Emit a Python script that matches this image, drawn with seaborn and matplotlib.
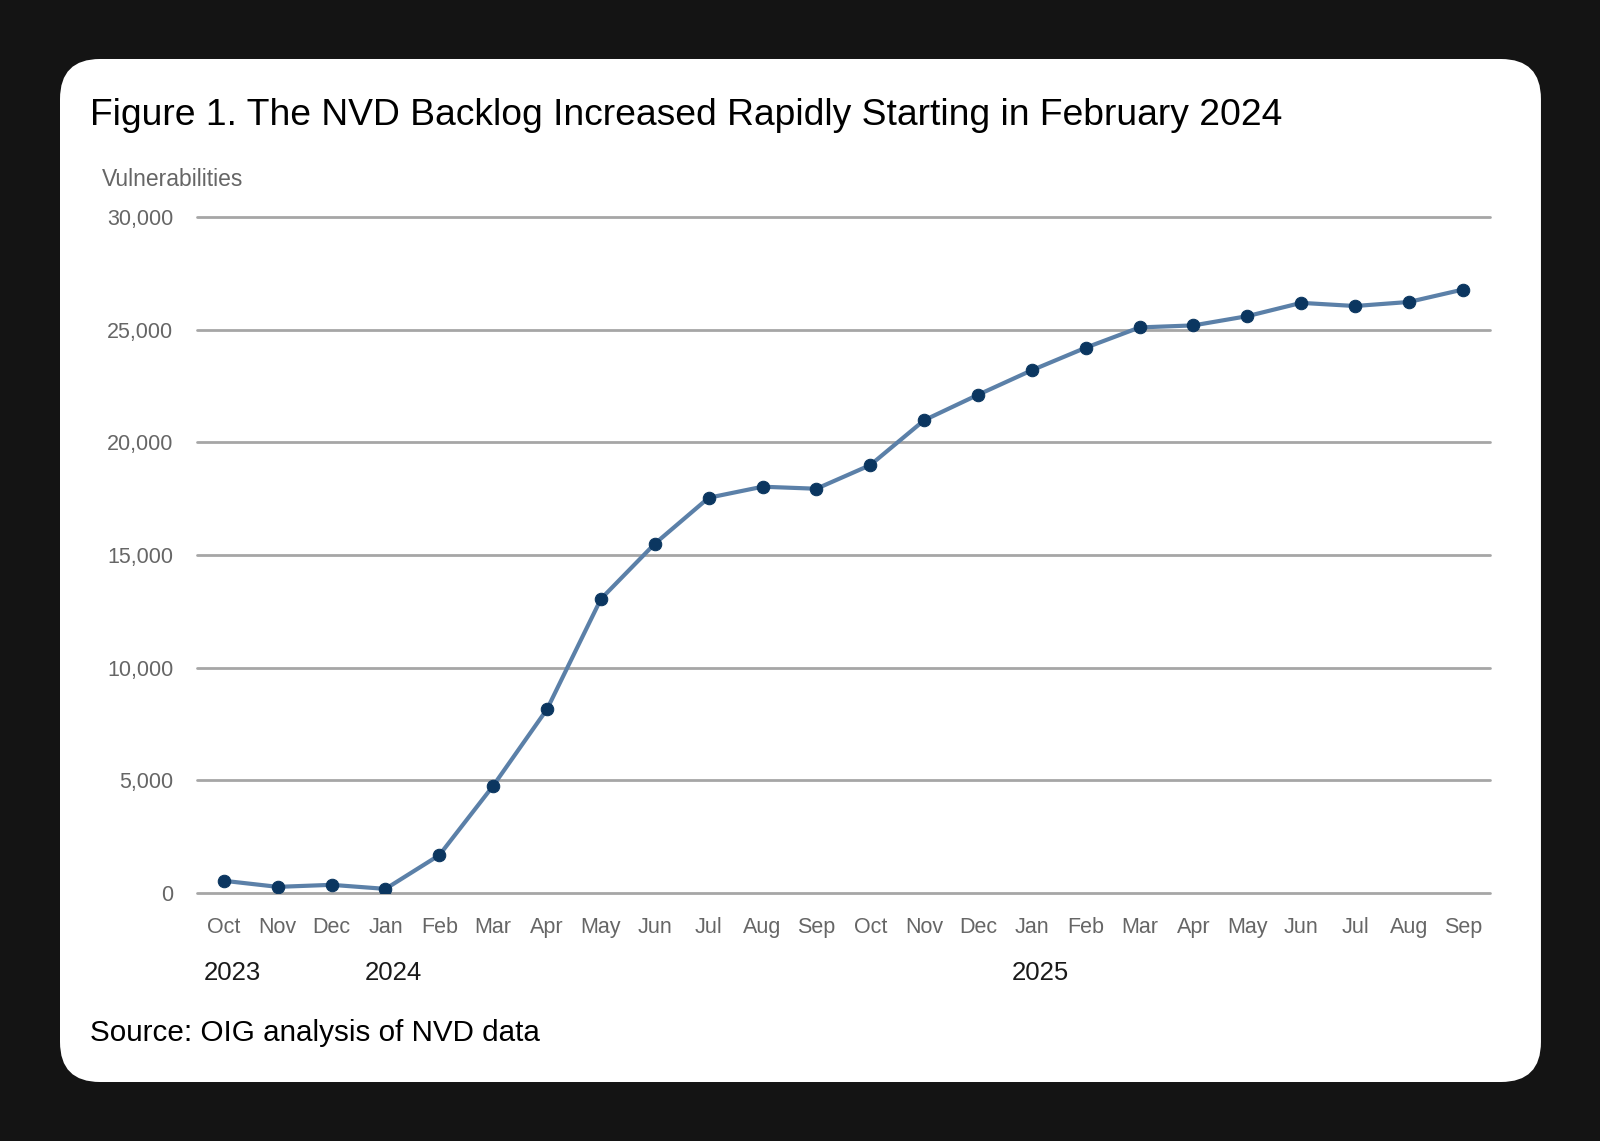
import matplotlib
matplotlib.use("Agg")
import matplotlib.pyplot as plt
from matplotlib.patches import FancyBboxPatch
from matplotlib.ticker import FuncFormatter
import matplotlib.transforms as mtransforms
import pandas as pd
import seaborn as sns

months = ["Oct", "Nov", "Dec", "Jan", "Feb", "Mar", "Apr", "May", "Jun", "Jul", "Aug", "Sep",
          "Oct", "Nov", "Dec", "Jan", "Feb", "Mar", "Apr", "May", "Jun", "Jul", "Aug", "Sep"]
backlog = [540, 270, 360, 180, 1680, 4760, 8160, 13050, 15500, 17540, 18030, 17940,
           18990, 20980, 22110, 23200, 24200, 25100, 25190, 25600, 26190, 26050, 26230, 26780]
year_labels = ["2023", "2024", "2025"]
year_pos = [0, 3, 15]
yticks = [0, 5000, 10000, 15000, 20000, 25000, 30000]

df = pd.DataFrame({"idx": range(len(months)), "month": months, "backlog": backlog})

sns.set_theme(style="white")
plt.rcParams["font.family"] = ["Liberation Sans", "DejaVu Sans"]

fig = plt.figure(figsize=(16, 11.41), dpi=100)
fig.patch.set_facecolor("#141414")

# white card with rounded corners, kept behind the axes
card = FancyBboxPatch((0.0375, 0.0517), 0.9256, 0.8966,
                      boxstyle="round,pad=0,rounding_size=0.025",
                      mutation_aspect=1600 / 1141,
                      transform=fig.transFigure, facecolor="white",
                      edgecolor="none", zorder=-10)
fig.patches.append(card)

ax = fig.add_axes([0.1231, 0.2174, 0.808, 0.5924])
ax.set_facecolor("none")
ax.set_zorder(5)

sns.lineplot(data=df, x="idx", y="backlog", ax=ax, color="#5b80a8", linewidth=3,
             marker="o", markersize=9, markerfacecolor="#0b3660",
             markeredgecolor="#0b3660", sort=False, zorder=3)

ax.set_xlim(-0.5, 23.5)
ax.set_ylim(0, 30000)
ax.set_yticks(yticks)
ax.yaxis.set_major_formatter(FuncFormatter(lambda v, p: f"{int(v):,}"))
ax.set_xticks(df["idx"])
ax.set_xticklabels(months)
ax.set_xlabel("")
ax.set_ylabel("")

for v in yticks:
    ax.axhline(v, color="#a6a6a6", linewidth=2, zorder=1, clip_on=False)
for s in ax.spines.values():
    s.set_visible(False)

ax.tick_params(axis="x", length=0, pad=17, labelsize=15.5, labelcolor="#666666")
ax.tick_params(axis="y", length=0, pad=17, labelsize=15.5, labelcolor="#666666")

trans = mtransforms.blended_transform_factory(ax.transData, fig.transFigure)
for lab, pos in zip(year_labels, year_pos):
    ax.text(pos + 0.15, 0.147, lab, transform=trans, ha="center", va="center",
            fontsize=18.5, color="#1a1a1a")

fig.text(0.056, 0.8904, "Figure 1. The NVD Backlog Increased Rapidly Starting in February 2024",
         fontsize=26.8, color="black", ha="left", va="baseline")
fig.text(0.064, 0.843, "Vulnerabilities", fontsize=16.5, color="#666666", ha="left", va="center")
fig.text(0.056, 0.095, "Source: OIG analysis of NVD data", fontsize=21.3, color="black",
         ha="left", va="center")

fig.savefig("out.png", dpi=100, facecolor=fig.get_facecolor())
